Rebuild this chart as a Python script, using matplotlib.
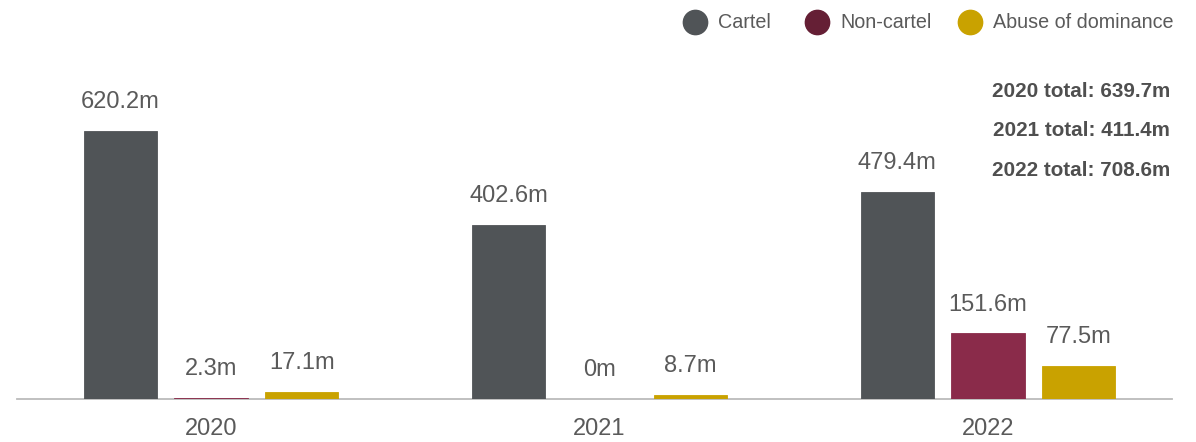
import numpy as np
import matplotlib
matplotlib.use('Agg')
import matplotlib.pyplot as plt
from matplotlib.lines import Line2D

plt.rcParams['font.family'] = ['Liberation Sans', 'DejaVu Sans']

# fines by year and category (EUR m)
years = ['2020', '2021', '2022']
categories = ['Cartel', 'Non-cartel', 'Abuse of dominance']
cartel = [620.2, 402.6, 479.4]
non_cartel = [2.3, 0, 151.6]
abuse = [17.1, 8.7, 77.5]
value_labels = [['620.2m', '402.6m', '479.4m'],
                ['2.3m', '0m', '151.6m'],
                ['17.1m', '8.7m', '77.5m']]
totals = ['2020 total: 639.7m', '2021 total: 411.4m', '2022 total: 708.6m']

bar_colors = ['#505457', '#8a2b4a', '#c9a200']
legend_colors = ['#505457', '#651f35', '#c9a200']
text_color = '#5a5a5a'

W, H = 1196, 442
fig = plt.figure(figsize=(W / 100, H / 100), dpi=100)
ax = fig.add_axes([17 / W, (H - 399) / H, (1172 - 17) / W, (399 - 50) / H])

x = np.arange(len(years))
width = 0.188
step = 0.234
series = [cartel, non_cartel, abuse]
for i, vals in enumerate(series):
    pos = x + (i - 1) * step
    # thin edge keeps very small values visible as a hairline
    ax.bar(pos, vals, width=width, color=bar_colors[i],
           edgecolor=[bar_colors[i] if v > 0 else 'none' for v in vals],
           linewidth=0.6, zorder=2)
    for px, v, lab in zip(pos, vals, value_labels[i]):
        ax.annotate(lab, (px, v), xytext=(0, 16.5), textcoords='offset points',
                    ha='center', va='baseline', fontsize=17, color=text_color)

ax.set_xlim(-0.4994, 2.4736)
ax.set_ylim(0, 807.7)
for s in ['left', 'right', 'top']:
    ax.spines[s].set_visible(False)
ax.spines['bottom'].set_color('#bbbbbb')
ax.spines['bottom'].set_linewidth(1.3)
ax.spines['bottom'].set_zorder(1)
ax.set_yticks([])
ax.set_xticks(x)
ax.set_xticklabels(years, fontsize=17, color=text_color)
ax.tick_params(axis='x', length=0, pad=14)

# legend across the top right
dot_x = [695, 817, 970]
for cx, col, lab in zip(dot_x, legend_colors, categories):
    fig.add_artist(Line2D([cx / W], [1 - 21.5 / H], marker='o', markersize=17.5,
                          color=col, linestyle='none', transform=fig.transFigure))
    fig.text((cx + 23) / W, 1 - 22.5 / H, lab, ha='left', va='center',
             fontsize=14.2, color=text_color)

# yearly totals
for k, t in enumerate(totals):
    fig.text(1170 / W, 1 - (91.5 + 39.5 * k) / H, t, ha='right', va='center',
             fontsize=14.9, fontweight='bold', color='#4f4f4f')

fig.savefig('out.png', dpi=100)
